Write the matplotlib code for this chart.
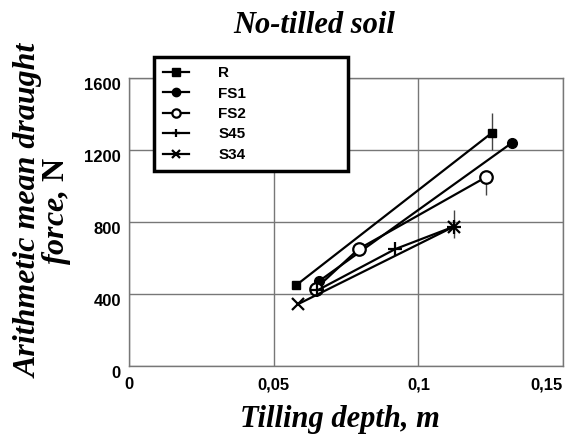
import matplotlib
matplotlib.use("Agg")
from matplotlib import pyplot as plt
from matplotlib.transforms import offset_copy

plt.rcParams["mathtext.fontset"] = "custom"
plt.rcParams["mathtext.rm"] = "Liberation Serif:bold"

# tilling depth (m) and mean draught force (N)
r_x = [0.0578, 0.1255]
r_y = [450, 1297]
fs1_x = [0.0655, 0.1323]
fs1_y = [470, 1240]
fs2_x = [0.0645, 0.0793, 0.1234]
fs2_y = [430, 650, 1050]
s45_x = [0.0650, 0.0920, 0.1123]
s45_y = [420, 650, 775]
s34_x = [0.0584, 0.1123]
s34_y = [344, 775]

# error bars on the last points
r_err = [[95], [110]]
fs2_err = [[100], [0]]
s45_err = [[65], [90]]

xticks = [0, 0.05, 0.1, 0.15]
xlabels = ["0", "0,05", "0,1", "0,15"]
yticks = [0, 400, 800, 1200, 1600]

fig = plt.figure(figsize=(5.74, 4.41), dpi=100)
ax = fig.add_axes([0.225, 0.170, 0.756, 0.653])

ax.plot(r_x, r_y, color="black", lw=1.6, marker="s", ms=6, label="R", zorder=3)
ax.plot(fs1_x, fs1_y, color="black", lw=1.6, marker="o", ms=7, label="FS1", zorder=3)
ax.plot(fs2_x, fs2_y, color="black", lw=1.6, marker="o", ms=9, mfc="white", mew=1.6,
        label="FS2", zorder=3)
ax.plot(s45_x, s45_y, color="black", lw=1.6, marker="+", ms=10, mew=1.6, label="S45", zorder=3)
ax.plot(s34_x, s34_y, color="black", lw=1.6, marker="x", ms=8, mew=1.6, label="S34", zorder=3)

ax.errorbar([r_x[-1]], [r_y[-1]], yerr=r_err, fmt="none", ecolor="#444444", elinewidth=1)
ax.errorbar([fs2_x[-1]], [fs2_y[-1]], yerr=fs2_err, fmt="none", ecolor="#444444", elinewidth=1)
ax.errorbar([s45_x[-1]], [s45_y[-1]], yerr=s45_err, fmt="none", ecolor="#444444", elinewidth=1)

ax.set_xlim(0, 0.15)
ax.set_ylim(0, 1600)
ax.set_xticks(xticks)
ax.set_xticklabels(xlabels)
ax.set_yticks(yticks)
ax.grid(True, color="#777777", lw=1)
ax.set_axisbelow(True)
for s in ax.spines.values():
    s.set_color("#777777")
    s.set_linewidth(1)
ax.tick_params(axis="x", length=0, pad=8)
ax.tick_params(axis="y", length=0, pad=6)
for t in ax.get_xticklabels() + ax.get_yticklabels():
    t.set_fontweight("bold")
    t.set_fontsize(12)
    t.set_family("Liberation Sans")
ax.get_xticklabels()[-1].set_ha("right")
# y labels sit a little below their grid lines in the original
for t in ax.get_yticklabels():
    t.set_transform(offset_copy(t.get_transform(), fig=fig, x=0, y=-6, units="dots"))

fig.text(0.547, 0.943, "No-tilled soil", fontsize=22, fontstyle="italic", fontweight="bold",
         family="Liberation Serif", ha="center", va="center")
fig.text(0.593, 0.048, "Tilling depth, m", fontsize=22, fontstyle="italic", fontweight="bold",
         family="Liberation Serif", ha="center", va="center")
fig.text(0.077, 0.522, "Arithmetic mean draught\nforce, $\\mathrm{N}$", fontsize=23,
         fontstyle="italic", fontweight="bold", family="Liberation Serif", rotation=90,
         ha="center", va="center", linespacing=0.85, multialignment="center")

leg = ax.legend(loc="upper left", bbox_to_anchor=(0.058, 0.5, 0.447, 0.573), mode="expand",
                borderaxespad=0, frameon=True, fancybox=False,
                borderpad=0.6, labelspacing=0.42, handlelength=1.7, handletextpad=1.9,
                prop={"family": "Liberation Sans", "weight": "bold", "size": 11})
leg.get_frame().set_edgecolor("black")
leg.get_frame().set_linewidth(2.5)
leg.get_frame().set_alpha(1)
for h in leg.legend_handles:
    h.set_markersize(6)

plt.savefig("out.png", dpi=100)
